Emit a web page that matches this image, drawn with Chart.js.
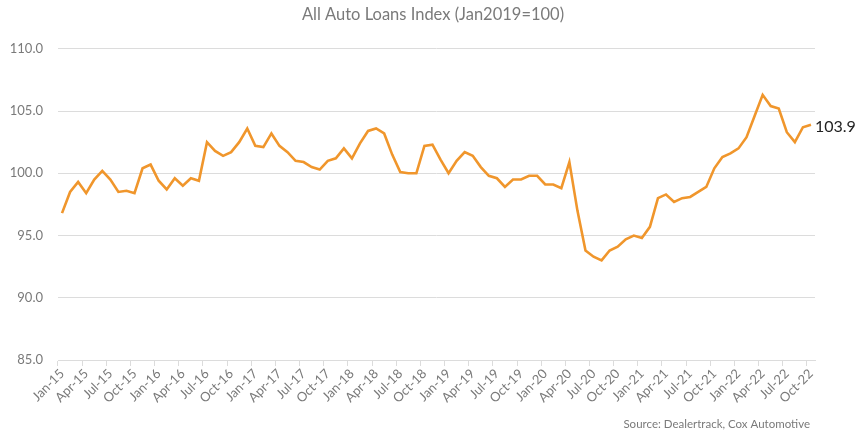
<!DOCTYPE html>
<html>
<head>
<meta charset="utf-8">
<script src="https://cdn.jsdelivr.net/npm/chart.js@4"></script>
<style>
    html, body { margin: 0; padding: 0; background: #fff; }
    #wrap { width: 866px; height: 439px; }
</style>
</head>
<body>
<div id="wrap"><canvas id="loans"></canvas></div>
<script>
// месяцы Jan-15 .. Oct-22
const years = [15, 16, 17, 18, 19, 20, 21, 22];
const monthNames = ['Jan', 'Feb', 'Mar', 'Apr', 'May', 'Jun', 'Jul', 'Aug', 'Sep', 'Oct', 'Nov', 'Dec'];
const months = [];
for (const y of years) {
    for (const m of monthNames) {
        months.push(m + '-' + y);
    }
}
months.length = 94;

// индекс
const loanIndex = [
    96.8, 98.5, 99.3, 98.4, 99.5, 100.2, 99.5, 98.5, 98.6, 98.4, 100.4, 100.7,
    99.4, 98.7, 99.6, 99.0, 99.6, 99.4, 102.5, 101.8, 101.4, 101.7, 102.5, 103.6,
    102.2, 102.1, 103.2, 102.2, 101.7, 101.0, 100.9, 100.5, 100.3, 101.0, 101.2, 102.0,
    101.2, 102.4, 103.4, 103.6, 103.2, 101.5, 100.1, 100.0, 100.0, 102.2, 102.3, 101.1,
    100.0, 101.0, 101.7, 101.4, 100.5, 99.8, 99.6, 98.9, 99.5, 99.5, 99.8, 99.8,
    99.1, 99.1, 98.8, 100.9, 97.0, 93.8, 93.3, 93.0, 93.8, 94.1, 94.7, 95.0,
    94.8, 95.7, 98.0, 98.3, 97.7, 98.0, 98.1, 98.5, 98.9, 100.4, 101.3, 101.6,
    102.0, 102.9, 104.6, 106.3, 105.4, 105.2, 103.3, 102.5, 103.7, 103.9
];
const yTicks = [85, 90, 95, 100, 105, 110];

const chartTitle = 'All Auto Loans Index (Jan2019=100)';
const sourceText = 'Source: Dealertrack, Cox Automotive';
const lineColor = '#F0962C';
const gridColor = '#dcdcdc';
const textGray = '#7a7a7a';

// подпись последнего значения + источник внизу справа
const extraText = {
    id: 'extraText',
    afterDatasetsDraw(chart) {
        const meta = chart.getDatasetMeta(0);
        const pt = meta.data[meta.data.length - 1];
        const ctx = chart.ctx;
        ctx.save();
        ctx.font = '16px Lato, sans-serif';
        ctx.fillStyle = '#222';
        ctx.textAlign = 'left';
        ctx.textBaseline = 'middle';
        ctx.fillText(loanIndex[loanIndex.length - 1].toFixed(1), pt.x + 4, pt.y + 2);

        ctx.font = '11.5px Lato, sans-serif';
        ctx.fillStyle = textGray;
        ctx.textAlign = 'right';
        ctx.fillText(sourceText, chart.scales.x.right - 5, chart.height - 15);
        ctx.restore();
    }
};

new Chart(document.getElementById('loans'), {
    type: 'line',
    data: {
        labels: months,
        datasets: [{
            label: 'All Auto Loans Index',
            data: loanIndex,
            borderColor: lineColor,
            borderWidth: 2.6,
            pointRadius: 0,
            tension: 0,
            fill: false
        }]
    },
    options: {
        responsive: true,
        maintainAspectRatio: false,
        animation: false,
        layout: {padding: {left: 0, right: 0, top: 0, bottom: 22}},
        plugins: {
            legend: {display: false},
            tooltip: {enabled: false},
            title: {
                display: true,
                text: chartTitle,
                color: textGray,
                font: {family: 'Lato, sans-serif', size: 16.5, weight: 'normal'},
                padding: {top: 5, bottom: 24}
            }
        },
        scales: {
            x: {
                offset: true,
                afterFit: (scale) => { scale.height = 57; },
                grid: {
                    offset: true,
                    drawOnChartArea: false,
                    drawTicks: true,
                    tickLength: 6,
                    color: (c) => c.index % 3 === 0 ? gridColor : 'rgba(0,0,0,0)'
                },
                border: {display: true, color: gridColor},
                ticks: {
                    autoSkip: false,
                    minRotation: 45,
                    maxRotation: 45,
                    padding: 0,
                    color: textGray,
                    font: {family: 'Lato, sans-serif', size: 13},
                    callback: (v, i) => i % 3 === 0 ? months[i] : ''
                }
            },
            y: {
                min: 85,
                max: 110,
                afterFit: (scale) => { scale.width = 58; },
                afterBuildTicks: (scale) => { scale.ticks = yTicks.map(v => ({value: v})); },
                grid: {color: gridColor, drawTicks: false, lineWidth: 1},
                border: {display: false},
                ticks: {
                    padding: 15,
                    color: textGray,
                    font: {family: 'Lato, sans-serif', size: 13},
                    callback: (v) => Number(v).toFixed(1)
                }
            },
            // пустая ось справа, только чтобы оставить место под "103.9"
            yRight: {
                position: 'right',
                afterFit: (scale) => { scale.width = 51; },
                ticks: {display: false},
                grid: {display: false},
                border: {display: false}
            }
        }
    },
    plugins: [extraText]
});
</script>
</body>
</html>
